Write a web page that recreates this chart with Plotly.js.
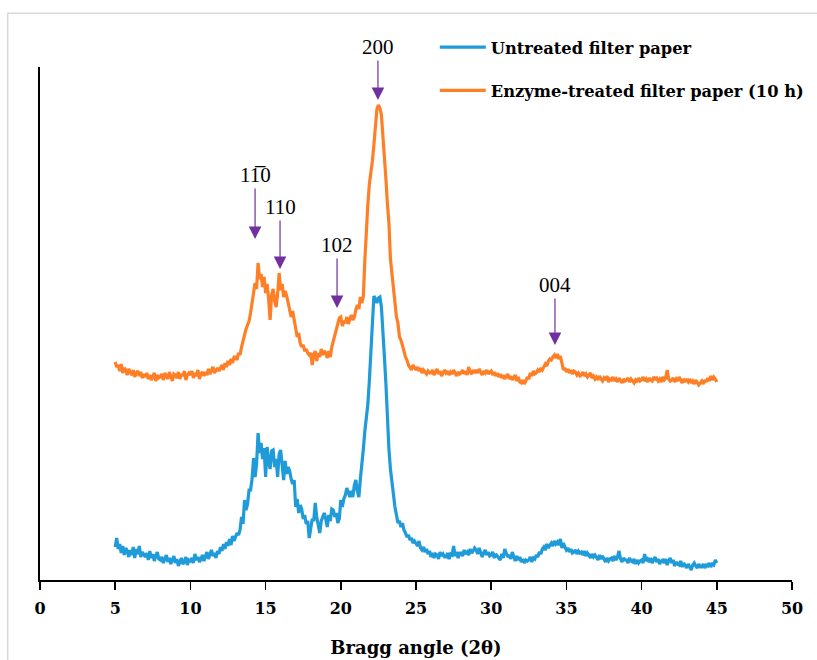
<!DOCTYPE html>
<html>
<head>
<meta charset="utf-8">
<script src="https://cdn.plot.ly/plotly-3.0.1.min.js"></script>
<style>html,body{margin:0;padding:0;background:#fff;}#chart{width:817px;height:660px;}</style>
</head>
<body>
<div id="chart"></div>
<script>
// Bragg angle grid (degrees, 2θ), step 0.1 from 5 to 45
const angleStart = 5.0;
const angleStep = 0.1;

// Untreated filter paper (arbitrary intensity)
const untreated = [
  32,41,30,35,26,33,24,31,28,22,
  29,24,32,21,30,25,33,22,27,24,
  22,26,19,28,21,25,18,23,27,20,
  19,22,16,20,24,17,21,15,19,23,
  16,20,13,18,21,15,17,22,14,19,
  18,21,16,25,19,22,17,20,24,18,
  22,27,20,25,29,23,26,21,28,25,
  32,28,35,30,37,33,40,34,43,38,
  42,46,44,49,62,55,79,69,75,89,
  89,100,121,102,115,146,126,136,120,131,
  102,132,118,110,128,129,112,120,102,125,
  129,110,99,118,105,112,108,100,95,99,
  72,80,66,74,70,60,64,55,58,41,
  52,60,58,76,62,55,46,58,62,66,
  60,52,64,58,70,69,62,66,56,60,
  79,72,80,84,91,86,82,88,82,94,
  99,88,82,100,112,130,148,160,175,199,
  230,262,283,280,276,281,282,272,252,222,
  195,155,130,110,95,82,72,64,56,58,
  52,56,49,46,42,44,39,41,36,38,
  36,33,38,31,29,32,27,30,25,28,
  22,26,21,25,24,20,27,23,25,22,
  22,26,20,25,24,33,23,27,21,26,
  26,23,29,25,27,24,30,26,28,31,
  29,25,31,27,22,26,29,24,27,23,
  24,27,21,25,23,22,19,25,21,30,
  26,22,24,20,27,21,18,23,19,22,
  17,20,16,19,18,19,22,17,21,20,
  24,22,27,25,30,32,29,35,31,34,
  36,33,38,35,37,34,40,31,36,32,
  29,31,27,30,26,27,29,25,28,26,
  27,24,28,23,26,24,21,25,22,24,
  22,19,24,20,23,19,17,21,18,20,
  21,18,23,19,22,28,20,17,21,19,
  19,16,21,18,17,20,15,19,16,18,
  19,16,25,18,20,17,21,16,19,22,
  17,20,15,18,19,16,20,14,18,21,
  16,19,13,17,15,14,18,12,16,14,
  11,15,12,9,14,16,13,11,15,12,
  12,15,11,14,13,16,12,15,14,19,
  16
];

// Enzyme-treated filter paper (10 h)
const treated = [
  217,212,214,208,215,206,211,209,204,210,
  207,204,209,202,206,208,203,207,201,205,
  202,206,200,204,199,203,206,198,204,201,
  202,205,199,206,203,200,207,202,198,205,
  204,201,207,200,205,203,208,199,204,206,
  204,208,201,206,203,209,200,205,207,203,
  207,204,210,205,208,212,206,209,211,208,
  211,214,209,216,212,218,214,220,216,222,
  222,219,226,224,232,240,244,250,255,258,
  266,275,285,296,290,316,300,305,292,302,
  286,295,280,259,284,290,278,272,285,306,
  289,295,282,288,283,276,270,262,268,259,
  250,242,246,236,232,234,228,230,226,224,
  226,214,224,228,218,226,222,230,224,228,
  226,221,228,222,232,238,242,250,256,261,
  262,253,258,256,262,255,260,264,259,262,
  269,274,270,282,276,283,319,356,375,395,
  405,418,434,452,470,474,471,464,445,428,
  400,375,356,320,304,289,275,262,256,242,
  239,232,228,222,219,214,212,209,214,211,
  209,212,208,211,206,209,207,205,208,206,
  206,209,204,207,210,205,208,203,206,209,
  206,208,204,207,205,209,206,203,207,205,
  206,209,205,208,204,212,207,205,209,206,
  209,206,210,207,204,208,206,209,205,207,
  208,204,207,203,206,202,205,201,204,200,
  202,205,200,203,199,201,204,198,202,197,
  196,199,195,198,202,200,206,203,208,205,
  206,209,207,211,209,212,215,213,218,220,
  219,222,224,221,225,220,223,216,209,211,
  207,210,206,209,205,208,207,204,206,203,
  204,207,203,205,202,204,206,201,203,200,
  202,199,203,200,198,201,199,203,197,200,
  199,202,198,200,197,201,199,196,200,198,
  199,201,197,200,198,196,199,197,201,198,
  199,202,198,200,197,201,199,198,202,200,
  201,198,200,197,202,199,201,209,200,198,
  199,201,197,200,198,202,199,196,200,198,
  199,197,200,196,198,195,199,197,194,196,
  198,195,199,197,201,198,203,199,202,200,
  197
];

const seriesNames = ["Untreated filter paper", "Enzyme-treated filter paper (10 h)"];
const xTicks = [0,5,10,15,20,25,30,35,40,45,50];

// Peak labels (Miller indices), their angles and arrow-tip intensities
const peakLabels = ["1\u0031\u03050", "110", "102", "200", "004"];
const peakAngles = [14.3, 15.96, 19.75, 22.47, 34.24];
const peakTips = [340, 310, 271, 479, 234];
const labelLift = [-64, -62, -63, -53, -60];

const angles = untreated.map((_, i) => +(angleStart + i * angleStep).toFixed(1));

const serif = "'Liberation Serif', 'Times New Roman', serif";
const wideSerif = "'DejaVu Serif', serif";

const traces = [
  {x: angles, y: untreated, type: 'scatter', mode: 'lines', name: seriesNames[0],
   line: {color: '#1f9bd9', width: 3.2}, legendgroup: 'a'},
  {x: angles, y: treated, type: 'scatter', mode: 'lines', name: seriesNames[1],
   line: {color: '#ff7f27', width: 3.2}, legendgroup: 'b'}
];

const annotations = peakLabels.map((t, i) => ({
  x: peakAngles[i], y: peakTips[i], xref: 'x', yref: 'y',
  text: t, showarrow: true, ax: 0, ay: labelLift[i],
  arrowhead: 2, arrowsize: 2.1, arrowwidth: 1.2, arrowcolor: '#7030a0',
  standoff: 0, font: {family: serif, size: 21, color: '#000'}
}));

const layout = {
  width: 817, height: 660,
  margin: {l: 40, r: 25, t: 67, b: 80, autoexpand: false},
  paper_bgcolor: '#fff', plot_bgcolor: '#fff',
  showlegend: true,
  legend: {x: 0.525, y: 1.072, xanchor: 'left', yanchor: 'top',
           font: {family: wideSerif, size: 16.3, color: '#000', weight: 'bold'},
           traceorder: 'grouped', tracegroupgap: 19, itemwidth: 46,
           bgcolor: 'rgba(0,0,0,0)'},
  xaxis: {range: [0, 50], tickvals: xTicks, ticktext: xTicks.map(String),
          showline: true, linecolor: '#000', linewidth: 2,
          ticks: 'outside', ticklen: 8, tickwidth: 1.5, tickcolor: '#000',
          ticklabelstandoff: 5,
          showgrid: false, zeroline: false, automargin: false,
          tickfont: {family: wideSerif, size: 16, color: '#000', weight: 'bold'},
          title: {text: 'Bragg angle (2\u03B8)', standoff: 24,
                  font: {family: wideSerif, size: 18, color: '#000', weight: 'bold'}}},
  yaxis: {range: [-1, 512], showline: true, linecolor: '#000', linewidth: 2,
          showticklabels: false, ticks: '', showgrid: false, zeroline: false, automargin: false},
  annotations: annotations,
  shapes: [{type: 'rect', xref: 'paper', yref: 'paper',
            x0: -0.043, x1: 1.2, y0: -0.3, y1: 1.105,
            line: {color: '#d9d9d9', width: 1.5}, fillcolor: 'rgba(0,0,0,0)'}]
};

Plotly.newPlot('chart', traces, layout, {displayModeBar: false, staticPlot: true});
</script>
</body>
</html>
